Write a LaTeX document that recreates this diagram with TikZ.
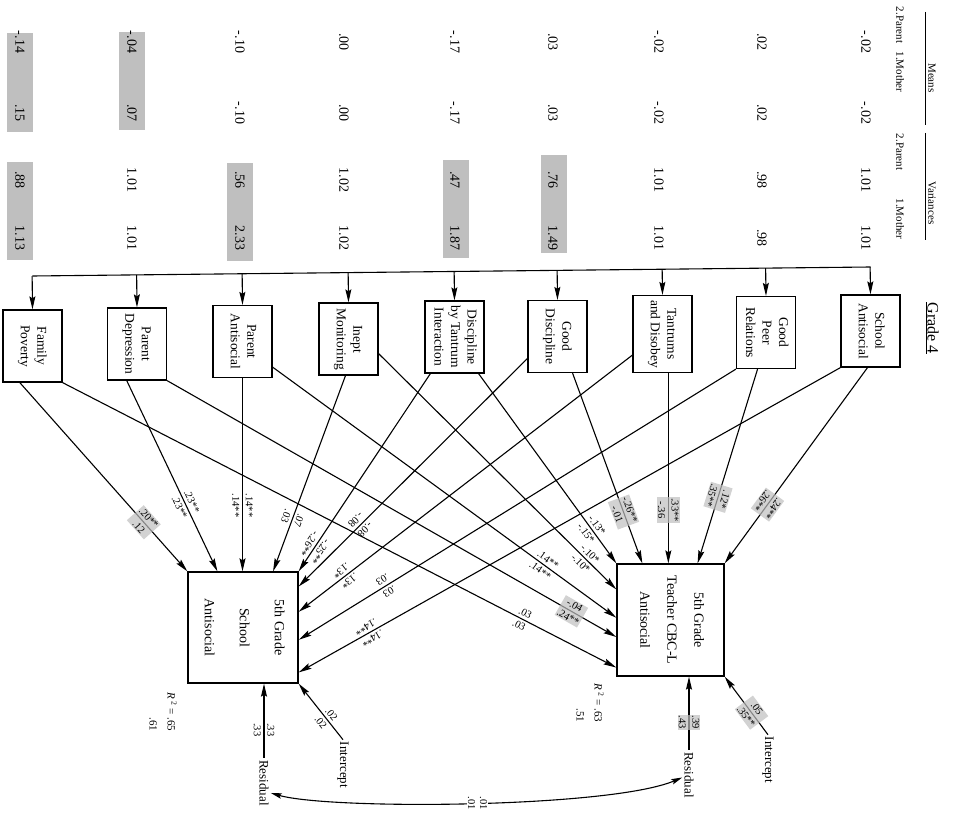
\documentclass[tikz,border=0pt]{standalone}
\usepackage{fontspec}
\setmainfont{Liberation Serif}
\usetikzlibrary{arrows.meta, calc}

\newcommand{\vtext}[1]{\rotatebox{-90}{\begin{tabular}{@{}c@{}}#1\end{tabular}}}

\begin{document}
\begin{tikzpicture}[
    x=1pt, y=-1pt,
    pbox/.style={draw, line width=1.3pt, minimum width=59pt, minimum height=72pt,
        inner sep=1pt, font=\fontsize{13.5}{16.5}\selectfont},
    tbox/.style={draw, line width=1.3pt, inner sep=0pt, font=\fontsize{14}{16}\selectfont},
    arr/.style={-{Stealth[length=13pt, width=6pt, inset=2pt]}, line width=1.1pt},
    rarr/.style={{Stealth[length=13pt, width=6pt, inset=2pt]}-, line width=1.1pt},
    coef/.style={sloped, allow upside down, align=center, inner sep=1pt,
        font=\fontsize{10.5}{13.5}\selectfont},
    shd/.style={fill=black!25, fill opacity=0.7, text opacity=1},
    val/.style={rotate=-90, inner sep=0pt, font=\fontsize{14}{16}\selectfont},
    hdr/.style={rotate=-90, inner sep=0pt, font=\fontsize{11}{13}\selectfont},
    vlab/.style={inner sep=2pt, font=\fontsize{13}{15}\selectfont}
]
    \useasboundingbox (0,0) rectangle (959,813);

    % means and variances
    \node[rotate=-90, font=\fontsize{16}{18}\selectfont] (grade) at (932,328) {\underline{Grade 4}};
    \node[hdr] (means) at (932,78) {Means};
    \node[hdr] (vars) at (932,203) {Variances};
    \draw[line width=0.8pt] (925,12) -- (925,125);
    \draw[line width=0.8pt] (925,133) -- (925,240);
    \node[hdr] (mpar) at (900,25) {2.Parent};
    \node[hdr] (mmot) at (900,72) {1.Mother};
    \node[hdr] (vpar) at (900,152) {2.Parent};
    \node[hdr] (vmot) at (900,219) {1.Mother};

    \foreach \x/\ya/\yb in {20/33/132, 20/162/260, 132/32/130, 240/163/261, 456/160/258, 554/155/253}
        \fill[black!25] (\x-13,\ya) rectangle (\x+13,\yb);

    \foreach \x/\ma/\mb/\va/\vb [count=\i] in {20/-.14/.15/.88/1.13, 132/-.04/.07/1.01/1.01,
        240/-.10/-.10/.56/2.33, 344/.00/.00/1.02/1.02, 455/-.17/-.17/.47/1.87,
        553/.03/.03/.76/1.49, 659/-.02/-.02/1.01/1.01, 762/.02/.02/.98/.98, 866/-.02/-.02/1.01/1.01} {
        \node[val] (ma\i) at (\x,42) {\ma};
        \node[val] (mb\i) at (\x,113) {\mb};
        \node[val] (va\i) at (\x,180) {\va};
        \node[val] (vb\i) at (\x,238) {\vb};
    }

    % grade 4 measures
    \node[pbox] (fp) at (32.5,346) {\vtext{Family\\Poverty}};
    \node[pbox] (pd) at (137,344) {\vtext{Parent\\Depression}};
    \node[pbox] (pa) at (242.5,341.5) {\vtext{Parent\\Antisocial}};
    \node[pbox] (im) at (348.5,339) {\vtext{Inept\\Monitoring}};
    \node[pbox] (dt) at (454.5,337) {\vtext{Discipline\\by Tantrum\\Interaction}};
    \node[pbox] (gd) at (557.5,336.5) {\vtext{Good\\Discipline}};
    \node[pbox, minimum height=77pt] (td) at (662.5,334) {\vtext{Tantrums\\and Disobey}};
    \node[pbox] (gp) at (766,332.5) {\vtext{Good\\Peer\\Relations}};
    \node[pbox] (sa) at (870.5,331) {\vtext{School\\Antisocial}};

    \coordinate (busL) at (32.5,276);
    \coordinate (busR) at (870.5,267);
    \draw[line width=1.1pt] (busL) -- (busR);
    \foreach \n in {fp,pd,pa,im,dt,gd,td,gp,sa}
        \draw[arr] ($(busL)!(\n.north)!(busR)$) -- (\n.north);

    % 5th grade outcomes
    \node[tbox, minimum width=110pt, minimum height=111pt] (lt) at (243,627.5)
        {\vtext{5th Grade\\[19pt]School\\[19pt]Antisocial}};
    \node[tbox, minimum width=107pt, minimum height=112pt] (rt) at (670.5,620)
        {\vtext{5th Grade\\[11pt]Teacher CBC-L\\[11pt]Antisocial}};
    \coordinate (rt7) at ($(rt.north west)!.48!(rt.north east)$);

    \draw[arr] ($(fp.south west)!.29!(fp.south east)$) -- node[coef, shd, pos=.74] {.20**\\.12} (lt.north west);
    \draw[arr] ($(pd.south west)!.33!(pd.south east)$) -- node[coef, pos=.65] {.23**\\.23**} ($(lt.north west)!.27!(lt.north east)$);
    \draw[arr] (pa.south) -- node[coef, pos=.66] {.14**\\.14**} (pa.south |- lt.north);
    \draw[arr] ($(im.south west)!.45!(im.south east)$) -- node[coef, pos=.73] {.07\\.03} ($(lt.north west)!.77!(lt.north east)$);
    \draw[arr] ($(dt.south west)!.1!(dt.south east)$) -- node[coef, pos=.88] {-.25**\\-.26**} (lt.north east);
    \draw[arr] ($(gd.north west)!.8!(gd.south west)$) -- node[coef, pos=.73] {-.08\\-.08} ($(lt.north east)!.135!(lt.south east)$);
    \draw[arr] ($(td.north west)!.77!(td.south west)$) -- node[coef, pos=.86] {.13*\\.13*} ($(lt.north east)!.36!(lt.south east)$);
    \draw[arr] (gp.south west) -- node[coef, pos=.8] {.03\\.03} ($(lt.north east)!.61!(lt.south east)$);
    \draw[arr] (sa.south west) -- node[coef, pos=.87] {.14**\\.14**} ($(lt.north east)!.9!(lt.south east)$);

    \draw[arr] (fp.south east) -- node[coef, pos=.83] {.03\\.03} ($(rt.north west)!.92!(rt.south west)$);
    \draw[arr] (pd.south east) -- node[coef, shd, pos=.9] {-.04\\.24**} ($(rt.north west)!.65!(rt.south west)$);
    \draw[arr] ($(pa.north east)!.85!(pa.south east)$) -- node[coef, pos=.79] {.14**\\.14**} ($(rt.north west)!.48!(rt.south west)$);
    \draw[arr] ($(im.north east)!.7!(im.south east)$) -- node[coef, pos=.87] {-.10*\\-.10*} ($(rt.north west)!.23!(rt.south west)$);
    \draw[arr] ($(dt.south west)!.9!(dt.south east)$) -- node[coef, pos=.82] {-.13*\\-.15*} (rt.north west);
    \draw[arr] ($(gd.south west)!.75!(gd.south east)$) -- node[coef, shd, pos=.73] {-.26**\\-.01} ($(rt.north west)!.24!(rt.north east)$);
    \draw[arr] (rt7 |- td.south) -- node[coef, shd, pos=.72] {.33**\\-.36} (rt7);
    \draw[arr] ($(gp.south west)!.36!(gp.south east)$) -- node[coef, shd, pos=.66] {.12*\\.35**} ($(rt.north west)!.75!(rt.north east)$);
    \draw[arr] ($(sa.south west)!.45!(sa.south east)$) -- node[coef, shd, pos=.7] {.24**\\.26**} (rt.north east);

    % r squared, intercepts, residuals
    \node[rotate=-90, align=right, inner sep=0pt, font=\fontsize{11}{18}\selectfont] (lr2) at (163,712)
        {\textit{R}\,\textsuperscript{2} = .65\\.61};
    \node[rotate=-90, align=right, inner sep=0pt, font=\fontsize{11}{18}\selectfont] (rr2) at (590,703)
        {\textit{R}\,\textsuperscript{2} = .63\\.51};

    \node[vlab] (li) at (343,765) {\rotatebox{-90}{Intercept}};
    \node[vlab] (lr) at (264,783) {\rotatebox{-90}{Residual}};
    \node[vlab] (ri) at (768,760) {\rotatebox{-90}{Intercept}};
    \node[vlab] (rr) at (689,775) {\rotatebox{-90}{Residual}};

    \draw[rarr] (lt.south east) -- node[coef, pos=.62] {.02\\.02} (li.north);
    \draw[rarr] (rt.south east) -- node[coef, shd, pos=.62] {.05\\.35**} (ri.north);
    \draw[rarr] (lr.north |- lt.south) -- node[coef, pos=.62] {.33\\.33} (lr.north);
    \draw[rarr] (rr.north |- rt.south) -- node[coef, shd, pos=.62] {.39\\.43} (rr.north);

    \draw[line width=1.1pt, {Stealth[length=11pt, width=5.5pt, inset=2pt]}-{Stealth[length=11pt, width=5.5pt, inset=2pt]}]
        ($(lr.north east)!.7!(lr.south east)$) .. controls (330,810) and (610,808) ..
        node[pos=.5, xshift=6pt, rotate=-90, fill=white, align=center, inner sep=1pt,
            font=\fontsize{10.5}{12}\selectfont] (cov) {.01\\.01}
        ($(rr.north west)!.55!(rr.south west)$);
\end{tikzpicture}
\end{document}
